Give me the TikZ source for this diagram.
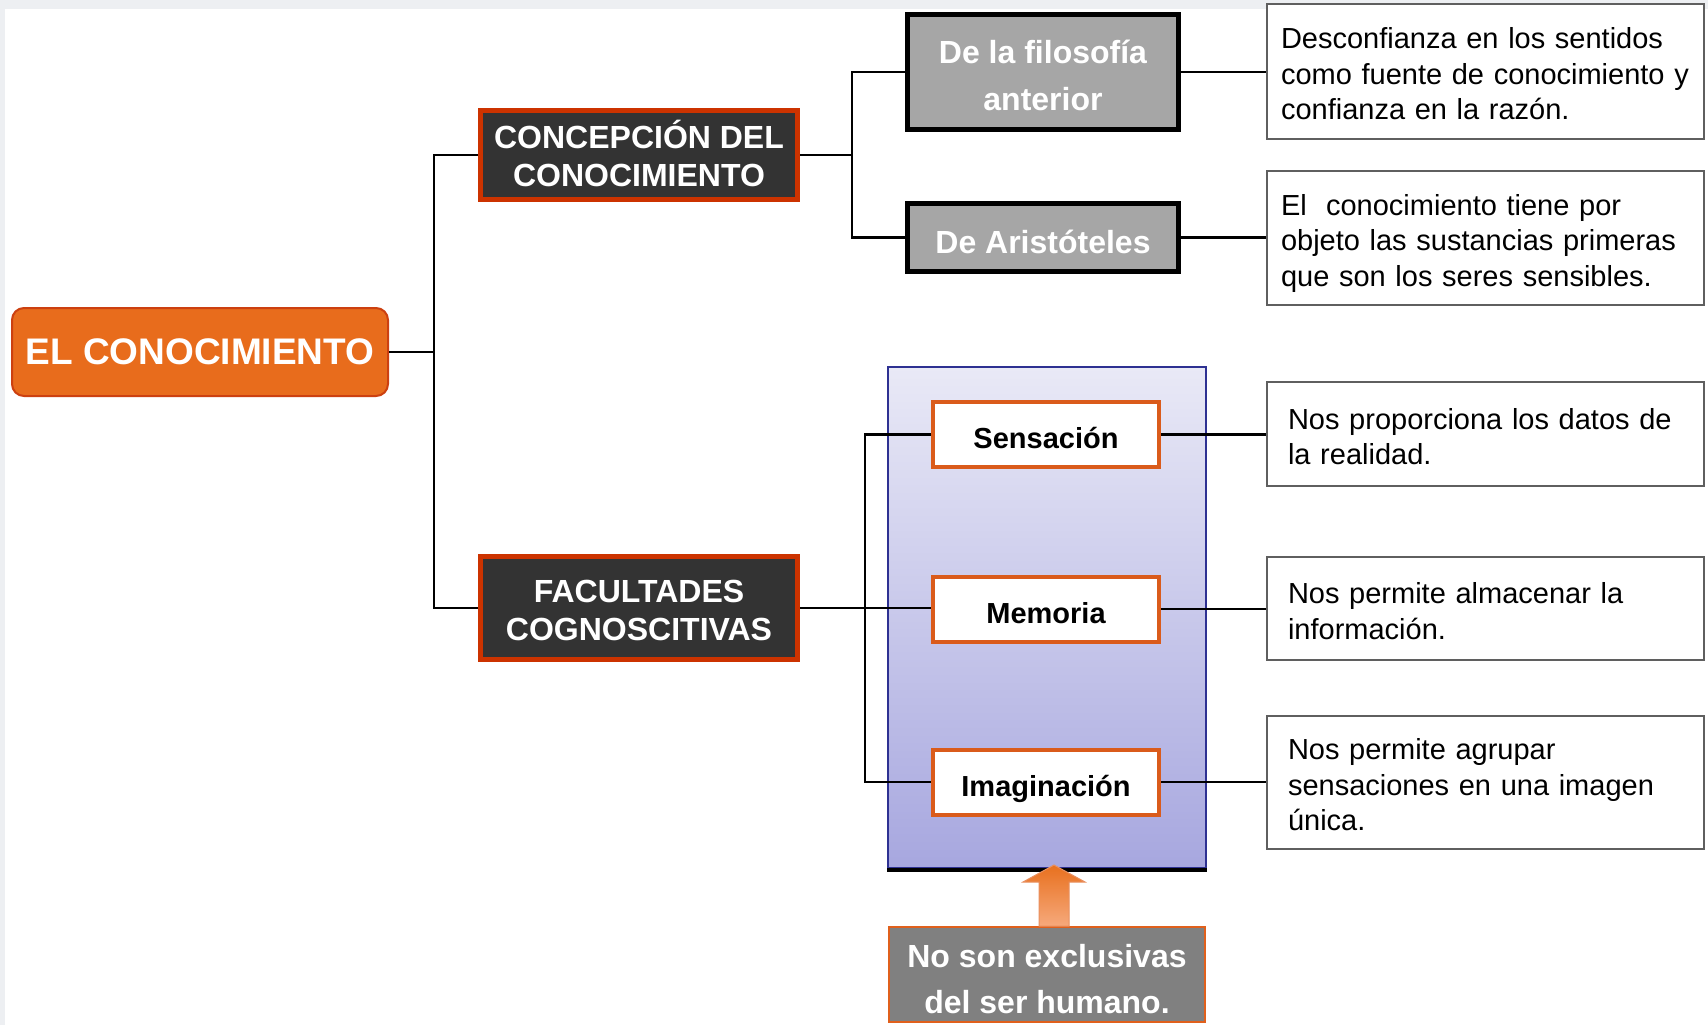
\documentclass[tikz,border=0pt]{standalone}
\usepackage{fontspec}
\setmainfont{Liberation Sans}
\usepackage{xcolor}
\usepackage{tikz}
\usetikzlibrary{calc}

\definecolor{rootfill}{HTML}{E86C1C}
\definecolor{rootline}{HTML}{CC4010}
\definecolor{darkfill}{HTML}{333333}
\definecolor{redline}{HTML}{CC3300}
\definecolor{greyfill}{HTML}{A6A6A6}
\definecolor{orangeline}{HTML}{DA5B1B}
\definecolor{descline}{HTML}{5F5F5F}
\definecolor{paneltop}{HTML}{E9E9F6}
\definecolor{panelbot}{HTML}{A7A7DF}
\definecolor{panelline}{HTML}{2E3192}
\definecolor{notefill}{HTML}{808080}
\definecolor{noteline}{HTML}{E0601C}
\definecolor{arrowtop}{HTML}{E8701E}
\definecolor{arrowbot}{HTML}{F6A97C}
\definecolor{band}{HTML}{EDEFF2}

\begin{document}
\begin{tikzpicture}[x=1pt, y=-1pt,
  conn/.style={line width=2.5pt, black},
  rootbox/.style={draw=rootline, fill=rootfill, line width=2pt, rounded corners=12pt,
    minimum width=376pt, minimum height=88pt, inner sep=2pt, text=white,
    font=\fontsize{37}{44}\selectfont\bfseries},
  mainbox/.style={draw=redline, fill=darkfill, line width=5pt, minimum width=317pt,
    inner sep=2pt, text=white, align=center, font=\fontsize{32}{38}\selectfont\bfseries},
  greybox/.style={draw=black, fill=greyfill, line width=5pt, minimum width=271pt,
    inner sep=2pt, text=white, align=center, font=\fontsize{32}{47}\selectfont\bfseries},
  facbox/.style={draw=orangeline, fill=white, line width=4pt, minimum width=226pt,
    minimum height=65pt, inner sep=2pt, text height=30pt, text depth=2pt,
    font=\fontsize{29}{35}\selectfont\bfseries},
  descbox/.style={draw=descline, fill=white, line width=2pt, minimum width=437pt,
    align=left, inner ysep=2pt, text height=26pt, font=\fontsize{29}{35.5}\selectfont},
  descA/.style={descbox, inner xsep=14pt, text width=409pt},
  descB/.style={descbox, inner xsep=21pt, text width=395pt},
  notebox/.style={draw=noteline, fill=notefill, line width=2pt, minimum width=316pt,
    minimum height=95pt, inner sep=2pt, text=white, align=center, text height=78pt,
    font=\fontsize{32}{46}\selectfont\bfseries}]
  \useasboundingbox (0,0) rectangle (1708,1025);
  \fill[band] (0,0) rectangle (1708,1025);
  \fill[white] (5,9) rectangle (1708,1025);

  % panel behind the faculties
  \node[draw=panelline, line width=1.5pt, top color=paneltop, bottom color=panelbot,
    minimum width=318pt, minimum height=501pt, inner sep=0pt] (panel) at (1047,617.5) {};
  \draw[line width=4pt] ($(panel.south west)+(0,1.5)$) -- ($(panel.south east)+(0,1.5)$);

  \node[rootbox] (root) at (200,352) {EL CONOCIMIENTO};
  \node[mainbox, minimum height=89pt, text height=63pt] (concep) at (639,155)
    {CONCEPCIÓN DEL\\CONOCIMIENTO};
  \node[mainbox, minimum height=103pt, text height=65.3pt] (facult) at (639,608)
    {FACULTADES\\COGNOSCITIVAS};

  \node[greybox, minimum height=115pt, text height=77.6pt] (filo) at (1043,72)
    {De la filosofía\\anterior};
  \node[greybox, minimum height=68pt, text height=33pt] (arist) at (1043,237.5)
    {De Aristóteles};

  \node[facbox] (sens) at (1046,434.5) {Sensación};
  \node[facbox] (memo) at (1046,609) {Memoria};
  \node[facbox] (imag) at (1046,782) {Imaginación};

  \node[descA, minimum height=135pt] (d1) at (1485.5,71.5)
    {Desconfianza en los sentidos\\como fuente de conocimiento y\\confianza en la razón.};
  \node[descA, minimum height=134pt, text height=32pt] (d2) at (1485.5,238)
    {El\ \ conocimiento tiene por\\objeto las sustancias primeras\\que son los seres sensibles.};
  \node[descB, minimum height=104pt] (d3) at (1485.5,434)
    {Nos proporciona los datos de\\la realidad.};
  \node[descB, minimum height=103pt] (d4) at (1485.5,608.5)
    {Nos permite almacenar la\\información.};
  \node[descB, minimum height=133pt] (d5) at (1485.5,782.5)
    {Nos permite agrupar\\sensaciones en una imagen\\única.};

  \node[notebox] (nota) at (1047,974.5) {No son exclusivas\\del ser humano.};

  % connectors
  \coordinate (t1) at (434,0);
  \coordinate (t2) at (852,0);
  \coordinate (t3) at (865,0);
  \draw[conn] (root.east) -- (root.east -| t1);
  \draw[conn] (concep.west) -- (concep.west -| t1) |- (facult.west);
  \draw[conn] (concep.east) -- (concep.east -| t2);
  \draw[conn] (filo.west) -- (filo.west -| t2) |- (arist.west);
  \draw[conn] (filo.east) -- (filo.east -| d1.west);
  \draw[conn] (arist.east) -- (arist.east -| d2.west);
  \draw[conn] (facult.east) -- (facult.east -| memo.west);
  \draw[conn] (sens.west) -- (sens.west -| t3) |- (imag.west);
  \draw[conn] (sens.east) -- (sens.east -| d3.west);
  \draw[conn] (memo.east) -- (memo.east -| d4.west);
  \draw[conn] (imag.east) -- (imag.east -| d5.west);

  % block arrow from the note up to the panel
  \coordinate (ab) at ($(nota.north)+(7,0)$);
  \shade[top color=arrowtop, bottom color=arrowbot, draw=noteline!70!white, line width=1pt]
    ($(ab)+(-15,0)$) -- ++(0,-44) -- ++(-16,0) -- ++(31,-17) -- ++(31,17)
    -- ++(-16,0) -- ++(0,44) -- cycle;
\end{tikzpicture}
\end{document}
